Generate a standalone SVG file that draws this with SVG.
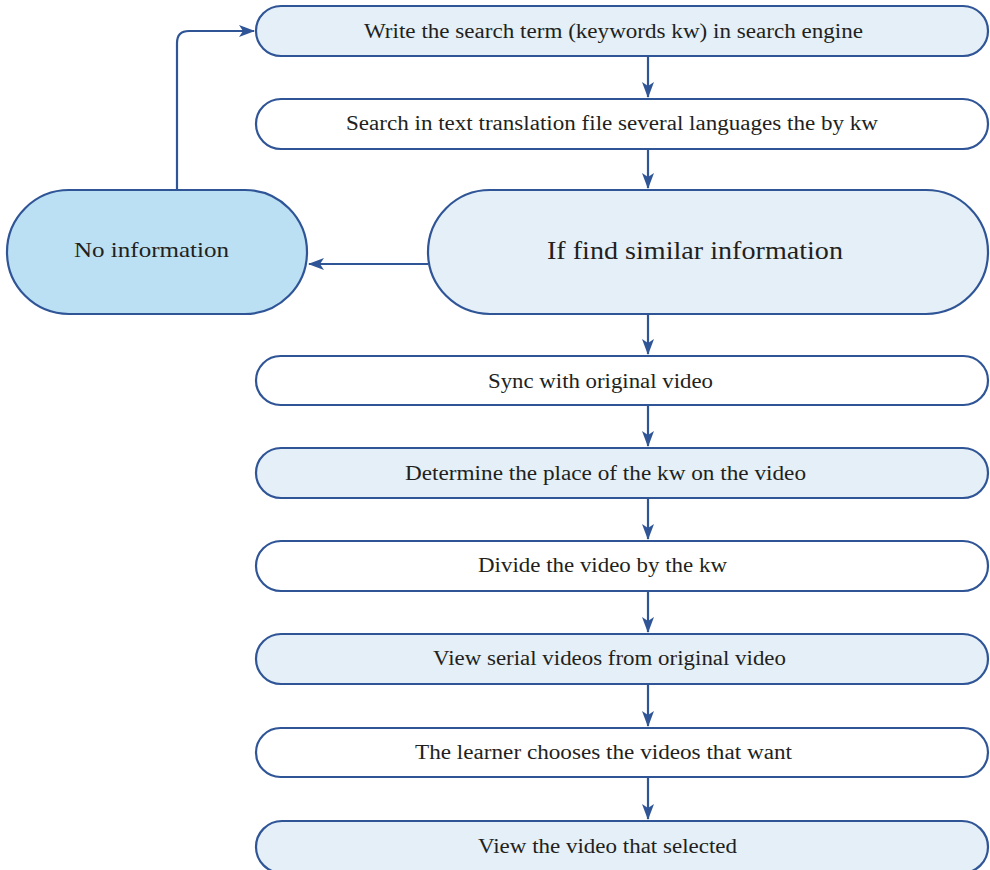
<svg xmlns="http://www.w3.org/2000/svg" width="990" height="870" viewBox="0 0 990 870">
<defs>
<marker id="ah" markerWidth="16" markerHeight="12" refX="15" refY="6" orient="auto" markerUnits="userSpaceOnUse">
<path d="M0,0 L16,6 L0,12 L4,6 Z" fill="#2f5597"/>
</marker>
<style>
.box{stroke:#2f5597;stroke-width:2.2}
.lt{fill:#e4eff7}
.wh{fill:#ffffff}
.bl{fill:#bbe0f4}
text{font-family:"Liberation Serif",serif;fill:#231f20;text-anchor:middle;dominant-baseline:central}
.t{font-size:20.5px}
.con{stroke:#2f5597;stroke-width:2.2;fill:none;marker-end:url(#ah)}
</style>
</defs>
<rect width="990" height="870" fill="#ffffff"/>
<g id="connectors">
<line class="con" x1="648" y1="56" x2="648" y2="97"/>
<line class="con" x1="648" y1="149" x2="648" y2="188"/>
<line class="con" x1="428" y1="264" x2="309" y2="264"/>
<path class="con" d="M177,190 L177,43 Q177,31 189,31 L254,31"/>
<line class="con" x1="648" y1="314" x2="648" y2="354"/>
<line class="con" x1="648" y1="405" x2="648" y2="446"/>
<line class="con" x1="648" y1="498" x2="648" y2="539"/>
<line class="con" x1="648" y1="591" x2="648" y2="632"/>
<line class="con" x1="648" y1="684" x2="648" y2="726"/>
<line class="con" x1="648" y1="777" x2="648" y2="819"/>
</g>
<g id="n1"><rect class="box lt" x="256" y="6" width="732" height="50" rx="25"/><text class="t" x="613.5" y="31" textLength="499" lengthAdjust="spacingAndGlyphs">Write the search term (keywords kw) in search engine</text></g>
<g id="n2"><rect class="box wh" x="256" y="99" width="732" height="50" rx="25"/><text class="t" x="612" y="123" textLength="532" lengthAdjust="spacingAndGlyphs">Search in text translation file several languages the by kw</text></g>
<g id="n3"><rect class="box lt" x="428" y="190" width="560" height="124" rx="62"/><text x="695" y="250" font-size="25.5" textLength="296" lengthAdjust="spacingAndGlyphs">If find similar information</text></g>
<g id="n4"><rect class="box bl" x="7" y="190" width="300" height="124" rx="62"/><text x="151.5" y="250" font-size="21.5" textLength="155" lengthAdjust="spacingAndGlyphs">No information</text></g>
<g id="n5"><rect class="box wh" x="256" y="356" width="732" height="49" rx="24.5"/><text class="t" x="600.5" y="381" textLength="225" lengthAdjust="spacingAndGlyphs">Sync with original video</text></g>
<g id="n6"><rect class="box lt" x="256" y="448" width="732" height="50" rx="25"/><text class="t" x="605.5" y="473" textLength="401" lengthAdjust="spacingAndGlyphs">Determine the place of the kw on the video</text></g>
<g id="n7"><rect class="box wh" x="256" y="541" width="732" height="50" rx="25"/><text class="t" x="602.5" y="565" textLength="249" lengthAdjust="spacingAndGlyphs">Divide the video by the kw</text></g>
<g id="n8"><rect class="box lt" x="256" y="634" width="732" height="50" rx="25"/><text class="t" x="609.5" y="658" textLength="353" lengthAdjust="spacingAndGlyphs">View serial videos from original video</text></g>
<g id="n9"><rect class="box wh" x="256" y="728" width="732" height="49" rx="24.5"/><text class="t" x="603.5" y="752" textLength="377" lengthAdjust="spacingAndGlyphs">The learner chooses the videos that want</text></g>
<g id="n10"><rect class="box lt" x="256" y="821" width="732" height="52" rx="26"/><text class="t" x="607.5" y="846" textLength="259" lengthAdjust="spacingAndGlyphs">View the video that selected</text></g>
</svg>
